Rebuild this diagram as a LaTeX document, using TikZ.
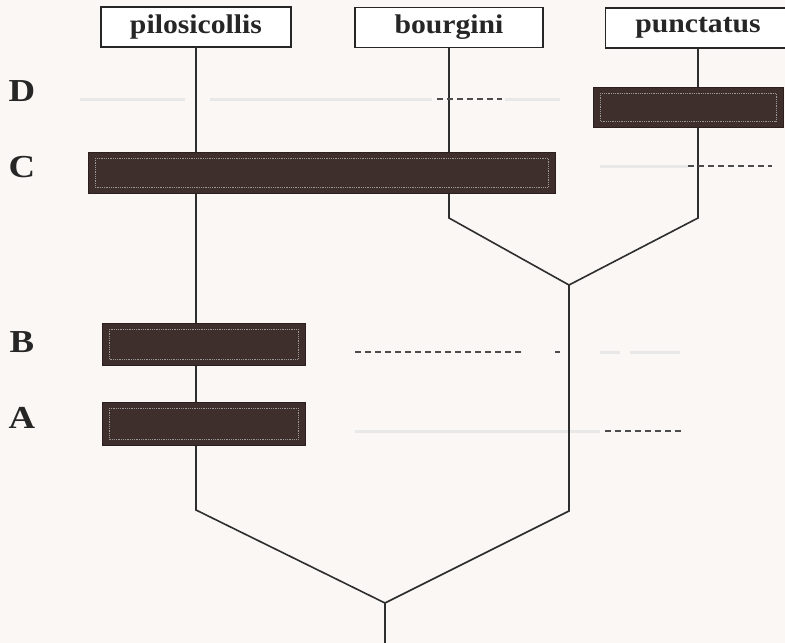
\documentclass[tikz,border=0pt]{standalone}
\usepackage{fontspec}
\setmainfont{Liberation Serif}
\begin{document}
\begin{tikzpicture}[x=1pt,y=-1pt,
  every node/.style={inner sep=0pt,outer sep=0pt},
  taxon/.style={draw=black!85,line width=1.2pt,fill=white,minimum height=40pt,
    font=\bfseries\fontsize{27}{30}\selectfont,text=black!85},
  letter/.style={font=\bfseries\fontsize{32}{34}\selectfont,text=black!85},
  branch/.style={draw=black!82,line width=1.6pt},
  bar/.style={fill=barc,draw=barc!70!black,line width=0.6pt,rectangle},
  dsh/.style={draw=black!70,line width=1.3pt,dash pattern=on 6pt off 4pt},
  ghost/.style={draw=black!9,line width=3pt}]
\definecolor{barc}{RGB}{62,46,44}
\definecolor{bg}{RGB}{250,247,244}
\useasboundingbox (0,0) rectangle (785,643);
\fill[bg] (0,0) rectangle (785,643);
% ghost traces
\draw[ghost] (80,99) -- (185,99);
\draw[ghost] (210,99) -- (432,99);
\draw[ghost] (505,99) -- (560,99);
\draw[ghost] (600,166) -- (688,166);
\draw[ghost] (600,352) -- (620,352) (630,352) -- (680,352);
\draw[ghost] (355,431) -- (600,431);
% taxa
\node[taxon,minimum width=190pt] (pil) at (196,27) {\scalebox{1.1}[1]{pilosicollis}};
\node[taxon,minimum width=188pt] (bou) at (449,27.5) {\scalebox{1.1}[1]{bourgini}};
\node[taxon,minimum width=185pt] (pun) at (698,28) {\scalebox{1.1}[1]{punctatus}};
% letters
\node[letter] (lD) at (22,91) {\scalebox{1.15}[1]{D}};
\node[letter] (lC) at (22,167) {\scalebox{1.15}[1]{C}};
\node[letter] (lB) at (22,342) {\scalebox{1.15}[1]{B}};
\node[letter] (lA) at (22,418) {\scalebox{1.15}[1]{A}};
% junctions
\coordinate (jb) at (449,218);
\coordinate (jp) at (698,218);
\coordinate (j1) at (569,285);
\coordinate (j1b) at (569,511);
\coordinate (jl) at (196,510);
\coordinate (root) at (385,603);
\coordinate (rootend) at (385,645);
% branches
\draw[branch] (pil.south) -- (jl) -- (root);
\draw[branch] (bou.south) -- (jb) -- (j1);
\draw[branch] (pun.south) -- (jp) -- (j1);
\draw[branch] (j1) -- (j1b) -- (root);
\draw[branch] (root) -- (rootend);
% bars
\node[bar,minimum width=190pt,minimum height=40pt] (bD) at (688,107) {};
\node[bar,minimum width=467pt,minimum height=41pt] (bC) at (321.5,172.5) {};
\node[bar,minimum width=203pt,minimum height=42pt] (bB) at (203.5,344) {};
\node[bar,minimum width=203pt,minimum height=43pt] (bA) at (203.5,423.5) {};
\foreach \b in {bD,bC,bB,bA}{
  \draw[black!40,line width=0.8pt,densely dotted] ([shift={(7pt,-6pt)}]\b.north west) rectangle ([shift={(-7pt,6pt)}]\b.south east);
}
% dashed marks
\coordinate (dD1) at (437,99); \coordinate (dD2) at (502,99);
\draw[dsh] (dD1) -- (dD2);
\coordinate (dC1) at (688,166); \coordinate (dC2) at (772,166);
\draw[dsh] (dC1) -- (dC2);
\coordinate (dB1) at (355,352); \coordinate (dB2) at (522,352);
\draw[dsh] (dB1) -- (dB2);
\coordinate (dB3) at (555,352); \coordinate (dB4) at (560,352);
\draw[dsh] (dB3) -- (dB4);
\coordinate (dA1) at (605,431); \coordinate (dA2) at (683,431);
\draw[dsh] (dA1) -- (dA2);
\end{tikzpicture}
\end{document}
